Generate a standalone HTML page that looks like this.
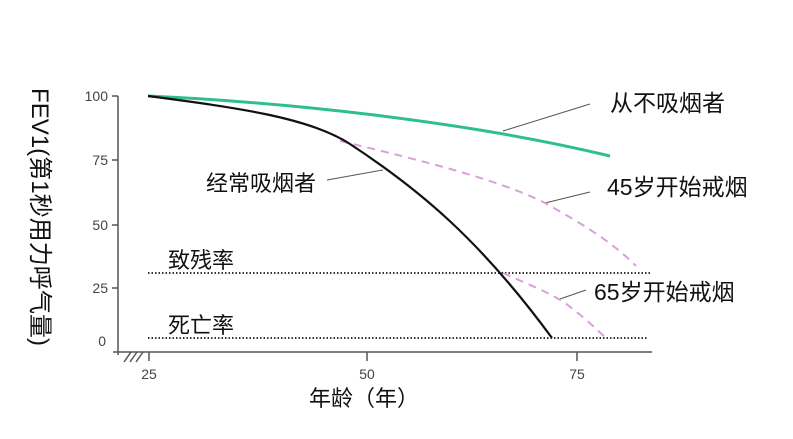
<!DOCTYPE html>
<html><head><meta charset="utf-8"><style>
html,body{margin:0;padding:0;background:#fff;}
svg{display:block;}
text{font-family:"Liberation Sans","Noto Sans CJK SC",sans-serif;}
</style></head><body>
<svg width="793" height="439" viewBox="0 0 793 439">
<g fill="#444" font-size="14" text-anchor="end">
<text x="108" y="101">100</text>
<text x="108" y="165">75</text>
<text x="108" y="230">50</text>
<text x="108" y="293">25</text>
<text x="106" y="346">0</text>
</g>
<g stroke="#555" stroke-width="1.5" fill="none">
<line x1="118" y1="96" x2="118" y2="355"/>
<line x1="113" y1="352" x2="652" y2="352"/>
<line x1="112" y1="96" x2="118" y2="96"/>
<line x1="112" y1="160" x2="118" y2="160"/>
<line x1="112" y1="225" x2="118" y2="225"/>
<line x1="112" y1="288" x2="118" y2="288"/>
<line x1="149" y1="352" x2="149" y2="361"/>
<line x1="367" y1="352" x2="367" y2="361"/>
<line x1="577" y1="352" x2="577" y2="361"/>
<line x1="124" y1="362" x2="131" y2="352"/>
<line x1="130" y1="362" x2="137" y2="352"/>
<line x1="136" y1="362" x2="143" y2="352"/>
</g>
<g fill="#444" font-size="14" text-anchor="middle">
<text x="149" y="379">25</text><text x="367" y="379">50</text><text x="577" y="379">75</text>
</g>
<text x="364" y="406" font-size="22" text-anchor="middle" fill="#111">年龄（年）</text>
<text transform="translate(32,88) rotate(90)" font-size="24" textLength="258" lengthAdjust="spacingAndGlyphs" fill="#111">FEV1(第1秒用力呼气量)</text>
<g stroke="#333" stroke-width="2" stroke-dasharray="1.5 2" fill="none">
<line x1="148" y1="273" x2="652" y2="273"/>
<line x1="148" y1="338" x2="648" y2="338"/>
</g>
<g font-size="22" fill="#111">
<text x="168" y="268">致残率</text>
<text x="168" y="333">死亡率</text>
<text x="610" y="111" font-size="23">从不吸烟者</text>
<text x="607" y="195" font-size="23">45岁开始戒烟</text>
<text x="594" y="300" font-size="23">65岁开始戒烟</text>
<text x="206" y="191">经常吸烟者</text>
</g>
<g stroke="#555" stroke-width="1" fill="none">
<line x1="590" y1="104" x2="503" y2="131"/>
<line x1="590" y1="192" x2="545" y2="203"/>
<line x1="586" y1="290" x2="560" y2="299"/>
<line x1="327" y1="180" x2="383" y2="170"/>
</g>
<g fill="none" stroke="#d9a0d9" stroke-width="2" stroke-dasharray="8 6">
<path d="M340,141 C420,160 500,180 545,203 C590,228 615,245 636,266"/>
<path d="M503,273 C530,285 550,293 565,303 C585,318 595,328 606,338"/>
</g>
<path d="M148,96 C280,102 460,120 610,156" fill="none" stroke="#2fbf8f" stroke-width="3"/>
<path d="M148,96 C240,108 310,118 350,144 C420,190 480,240 552,338" fill="none" stroke="#111" stroke-width="2.2"/>
</svg>
</body></html>
